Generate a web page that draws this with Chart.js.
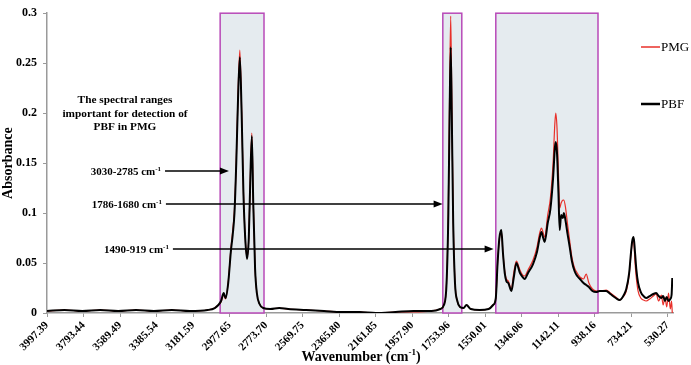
<!DOCTYPE html>
<html>
<head>
<meta charset="utf-8">
<script src="https://cdn.jsdelivr.net/npm/chart.js@4.4.1/dist/chart.umd.min.js"></script>
<style>
  body { margin: 0; background: #fff; }
  #wrap { width: 691px; height: 365px; }
</style>
</head>
<body>
<div id="wrap"><canvas id="ftirChart" width="691" height="365"></canvas></div>
<script>
// wavenumber grid (cm-1) shared by both spectra
const wavenumbers = [
  3997, 3900, 3800, 3700, 3600, 3500, 3400, 3300, 3200, 3100,
  3060, 3040, 3025, 3010, 3000, 2985, 2970, 2960, 2950, 2940,
  2930, 2920, 2910, 2900, 2890, 2880, 2870, 2862, 2853, 2845,
  2835, 2825, 2810, 2790, 2750, 2700, 2650, 2550, 2450, 2350,
  2250, 2160, 2050, 1950, 1850, 1800, 1780, 1765, 1755, 1748,
  1742, 1736, 1728, 1718, 1705, 1690, 1670, 1654, 1630, 1580,
  1530, 1505, 1490, 1480, 1470, 1459, 1450, 1440, 1431, 1420,
  1403, 1390, 1375, 1355, 1340, 1329, 1310, 1282, 1260, 1245,
  1235, 1225, 1217, 1200, 1185, 1170, 1160, 1155, 1148, 1140,
  1133, 1125, 1115, 1110, 1100, 1090, 1077, 1065, 1050, 1035,
  1020, 1000, 985, 970, 950, 929, 910, 873, 850, 820,
  798, 775, 761, 745, 735, 728, 720, 712, 705, 695,
  680, 665, 650, 630, 610, 594, 580, 565, 555, 545,
  535, 525, 515, 508, 504
];
const pmg = [
  0.002, 0.003, 0.002, 0.003, 0.002, 0.003, 0.002, 0.003, 0.002, 0.003,
  0.005, 0.008, 0.011, 0.018, 0.014, 0.031, 0.064, 0.082, 0.104, 0.152,
  0.220, 0.263, 0.203, 0.122, 0.076, 0.055, 0.076, 0.132, 0.180, 0.111,
  0.045, 0.020, 0.009, 0.005, 0.004, 0.005, 0.004, 0.003, 0.002, 0.001,
  0.001, 0.000, 0.001, 0.001, 0.002, 0.004, 0.008, 0.032, 0.110, 0.220,
  0.297, 0.215, 0.095, 0.031, 0.012, 0.006, 0.005, 0.008, 0.004, 0.003,
  0.004, 0.008, 0.015, 0.050, 0.074, 0.082, 0.060, 0.042, 0.034, 0.032,
  0.024, 0.040, 0.052, 0.043, 0.038, 0.037, 0.043, 0.053, 0.066, 0.080,
  0.085, 0.080, 0.076, 0.098, 0.115, 0.150, 0.190, 0.200, 0.185, 0.140,
  0.105, 0.110, 0.113, 0.113, 0.105, 0.090, 0.072, 0.056, 0.045, 0.040,
  0.036, 0.034, 0.039, 0.030, 0.024, 0.022, 0.022, 0.023, 0.020, 0.016,
  0.013, 0.017, 0.022, 0.038, 0.058, 0.070, 0.072, 0.050, 0.035, 0.022,
  0.015, 0.013, 0.012, 0.014, 0.017, 0.019, 0.012, 0.018, 0.008, 0.016,
  0.006, 0.020, 0.004, 0.012, 0.000
];
const pbf = [
  0.002, 0.003, 0.002, 0.003, 0.002, 0.003, 0.002, 0.003, 0.002, 0.003,
  0.005, 0.008, 0.012, 0.020, 0.015, 0.030, 0.062, 0.078, 0.100, 0.150,
  0.215, 0.256, 0.200, 0.120, 0.075, 0.054, 0.075, 0.130, 0.177, 0.110,
  0.045, 0.020, 0.009, 0.005, 0.004, 0.005, 0.004, 0.003, 0.002, 0.001,
  0.001, 0.000, 0.001, 0.002, 0.002, 0.004, 0.008, 0.030, 0.100, 0.200,
  0.266, 0.200, 0.090, 0.030, 0.012, 0.006, 0.005, 0.008, 0.004, 0.003,
  0.004, 0.008, 0.015, 0.050, 0.075, 0.083, 0.060, 0.040, 0.032, 0.030,
  0.022, 0.035, 0.050, 0.040, 0.036, 0.034, 0.040, 0.049, 0.061, 0.075,
  0.081, 0.075, 0.071, 0.090, 0.104, 0.135, 0.165, 0.171, 0.160, 0.120,
  0.083, 0.098, 0.095, 0.100, 0.092, 0.080, 0.066, 0.052, 0.042, 0.037,
  0.034, 0.030, 0.028, 0.026, 0.022, 0.021, 0.022, 0.022, 0.019, 0.015,
  0.013, 0.018, 0.024, 0.040, 0.060, 0.072, 0.076, 0.060, 0.044, 0.030,
  0.021, 0.017, 0.015, 0.017, 0.019, 0.020, 0.017, 0.015, 0.017, 0.012,
  0.016, 0.012, 0.014, 0.018, 0.035
];
const xTickLabels = [
  "3997.39", "3793.44", "3589.49", "3385.54", "3181.59", "2977.65",
  "2773.70", "2569.75", "2365.80", "2161.85", "1957.90", "1753.96",
  "1550.01", "1346.06", "1142.11", "938.16", "734.21", "530.27"
];
const seriesNames = ["PMG", "PBF"];
const seriesColors = ["#e8302a", "#000000"];
const ranges = [[3030, 2785], [1786, 1680], [1490, 919]];
const rangeLabels = ["3030-2785 cm", "1786-1680 cm", "1490-919 cm"];
const noteLines = ["The spectral ranges", "important for detection of", "PBF in PMG"];

// arrows: start / tip in wavenumber, height in absorbance
const arrows = [
  { from: 3338, to: 2981, y: 0.142 },
  { from: 3333, to: 1787, y: 0.109 },
  { from: 3294, to: 1502, y: 0.064 }
];

const serif = "'Liberation Serif', 'Times New Roman', serif";

function richText(ctx, parts, x, y, size, align) {
  const supSize = Math.round(size * 0.65);
  let total = 0;
  const widths = parts.map(p => {
    ctx.font = `bold ${p.sup ? supSize : size}px ${serif}`;
    const w = ctx.measureText(p.t).width;
    total += w;
    return w;
  });
  let left = align === "right" ? x - total : align === "center" ? x - total / 2 : x;
  ctx.textAlign = "left";
  ctx.textBaseline = "alphabetic";
  parts.forEach((p, i) => {
    ctx.font = `bold ${p.sup ? supSize : size}px ${serif}`;
    ctx.fillText(p.t, left, p.sup ? y - size * 0.4 : y);
    left += widths[i];
  });
}

function drawArrow(ctx, x1, x2, y) {
  ctx.lineWidth = 1.5;
  ctx.beginPath();
  ctx.moveTo(x1, y);
  ctx.lineTo(x2 - 7, y);
  ctx.stroke();
  ctx.beginPath();
  ctx.moveTo(x2, y);
  ctx.lineTo(x2 - 9, y - 3.5);
  ctx.lineTo(x2 - 9, y + 3.5);
  ctx.closePath();
  ctx.fill();
}

const boxesPlugin = {
  id: "boxes",
  beforeDatasetsDraw(chart) {
    const { ctx, chartArea, scales } = chart;
    ctx.save();
    ranges.forEach(r => {
      const a = scales.x.getPixelForValue(r[0]);
      const b = scales.x.getPixelForValue(r[1]);
      const top = scales.y.getPixelForValue(0.3);
      ctx.fillStyle = "#e5ebef";
      ctx.fillRect(a, top, b - a, chartArea.bottom - top);
      ctx.strokeStyle = "#b84ab8";
      ctx.lineWidth = 1.5;
      ctx.strokeRect(a, top, b - a, chartArea.bottom - top);
    });
    ctx.restore();
  },
  afterDraw(chart) {
    const { ctx, scales, chartArea } = chart;
    ctx.save();
    ctx.fillStyle = "#000";
    ctx.strokeStyle = "#000";

    // note block
    noteLines.forEach((t, i) => {
      ctx.font = `bold 11.3px ${serif}`;
      ctx.textAlign = "center";
      ctx.fillText(t, 125, 103 + i * 13.5);
    });

    // range labels with arrows
    arrows.forEach((a, i) => {
      const x1 = scales.x.getPixelForValue(a.from);
      const x2 = scales.x.getPixelForValue(a.to);
      const y = scales.y.getPixelForValue(a.y);
      drawArrow(ctx, x1, x2, y);
      richText(ctx, [{ t: rangeLabels[i] }, { t: "-1", sup: true }], x1 - 4, y + 4, 11, "right");
    });

    // x axis title
    richText(ctx, [{ t: "Wavenumber (cm" }, { t: "-1", sup: true }, { t: ")" }],
      (chartArea.left + chartArea.right) / 2 + 1, 361, 14, "center");

    // legend
    const legY = [47, 104];
    seriesNames.forEach((n, i) => {
      ctx.strokeStyle = seriesColors[i];
      ctx.lineWidth = i === 0 ? 1.5 : 2.5;
      ctx.beginPath();
      ctx.moveTo(641, legY[i]);
      ctx.lineTo(660, legY[i]);
      ctx.stroke();
      ctx.fillStyle = "#000";
      ctx.font = `13px ${serif}`;
      ctx.textAlign = "left";
      ctx.textBaseline = "middle";
      ctx.fillText(n, 661, legY[i] + 1);
    });
    ctx.restore();
  }
};

new Chart(document.getElementById("ftirChart").getContext("2d"), {
  type: "line",
  data: {
    datasets: [
      {
        label: seriesNames[0],
        data: wavenumbers.map((w, i) => ({ x: w, y: pmg[i] })),
        borderColor: seriesColors[0],
        borderWidth: 1.2,
        pointRadius: 0,
        cubicInterpolationMode: "monotone",
        order: 1
      },
      {
        label: seriesNames[1],
        data: wavenumbers.map((w, i) => ({ x: w, y: pbf[i] })),
        borderColor: seriesColors[1],
        borderWidth: 2,
        pointRadius: 0,
        cubicInterpolationMode: "monotone",
        order: 0
      }
    ]
  },
  options: {
    responsive: false,
    animation: false,
    layout: { padding: { top: 5, right: 18, left: 0, bottom: 0 } },
    plugins: { legend: { display: false }, tooltip: { enabled: false } },
    scales: {
      x: {
        type: "linear",
        reverse: true,
        min: 500,
        max: 3997.39,
        afterBuildTicks: s => { s.ticks = xTickLabels.map(v => ({ value: parseFloat(v) })); },
        afterFit: s => { s.height = 52; },
        ticks: {
          autoSkip: false,
          minRotation: 45,
          maxRotation: 45,
          padding: 2,
          color: "#000",
          font: { family: serif, size: 11, weight: "bold" },
          callback: v => v.toFixed(2)
        },
        grid: { drawOnChartArea: false, tickLength: 4, color: "#9a9a9a" },
        border: { color: "#9a9a9a", width: 1.5 }
      },
      y: {
        min: 0,
        max: 0.3,
        afterFit: s => { s.width = 47; },
        ticks: {
          stepSize: 0.05,
          padding: 6,
          color: "#000",
          font: { family: serif, size: 12, weight: "bold" },
          callback: v => String(+v.toFixed(2))
        },
        grid: { drawOnChartArea: false, tickLength: 4, color: "#9a9a9a" },
        border: { color: "#9a9a9a", width: 1.5 },
        title: {
          display: true,
          text: "Absorbance",
          color: "#000",
          padding: 0,
          font: { family: serif, size: 14, weight: "bold" }
        }
      }
    }
  },
  plugins: [boxesPlugin]
});
</script>
</body>
</html>
